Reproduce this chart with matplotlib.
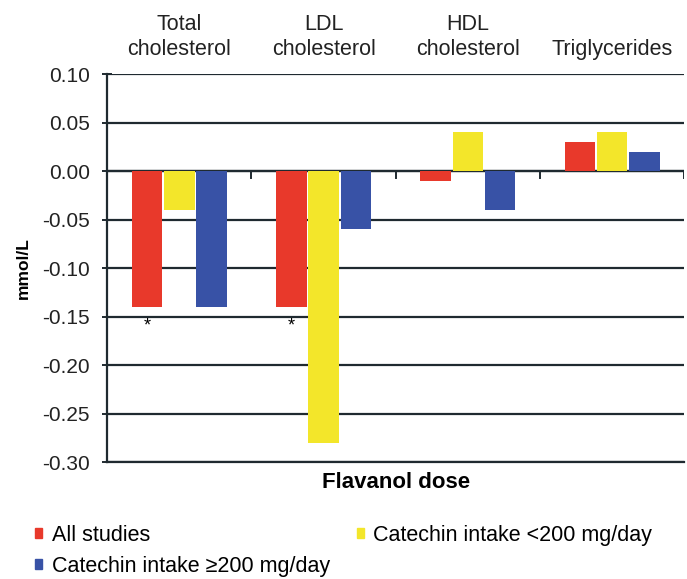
import matplotlib.pyplot as plt
import numpy as np
from matplotlib.patches import Patch

plt.rcParams["font.family"] = ["Liberation Sans", "DejaVu Sans"]

categories = ["Total\ncholesterol", "LDL\ncholesterol", "HDL\ncholesterol", "Triglycerides"]
all_studies = [-0.14, -0.14, -0.01, 0.03]
catechin_low = [-0.04, -0.28, 0.04, 0.04]
catechin_high = [-0.14, -0.06, -0.04, 0.02]
significant = [True, True, False, False]
series_labels = ["All studies", "Catechin intake <200 mg/day", "Catechin intake \u2265200 mg/day"]
yticks = [-0.30, -0.25, -0.20, -0.15, -0.10, -0.05, 0.00, 0.05, 0.10]
colors = ["#e8392b", "#f3e62a", "#3852a6"]
line_col = "#1f2a30"

fig = plt.figure(figsize=(6.87, 5.79), dpi=100)
ax = fig.add_axes([0.156, 0.202, 0.84, 0.670])

x = np.arange(len(categories))
width = 0.212
gap = 0.012
for i, (vals, c) in enumerate(zip([all_studies, catechin_low, catechin_high], colors)):
    ax.bar(x + (i - 1) * (width + gap), vals, width, color=c, zorder=3, label=series_labels[i])

for xi, sig, v in zip(x, significant, all_studies):
    if sig:
        ax.text(xi - (width + gap), v - 0.011, "*", ha="center", va="top", fontsize=13, zorder=4)

ax.set_xlim(-0.5, len(categories) - 0.5)
ax.set_ylim(-0.30, 0.10)
ax.set_yticks(yticks)
ax.set_yticklabels([f"{t:.2f}" for t in yticks], fontsize=15, color="#222222")
ax.yaxis.grid(True, color=line_col, linewidth=1.6, zorder=1)
ax.tick_params(axis="y", length=7, width=1.4, direction="inout", pad=9, color=line_col)

# category names sit above the plot
ax.set_xticks([])
for xi, lab in zip(x, categories):
    ax.text(xi, 1.049, lab, transform=ax.get_xaxis_transform(), ha="center", va="baseline",
            fontsize=15.5, linespacing=1.25, color="#222222")

# zero line with small separator ticks between groups
ax.axhline(0, color=line_col, linewidth=1.6, zorder=2)
for b in np.arange(0.5, len(categories), 1.0):
    ax.plot([b, b], [0, -0.007], color=line_col, linewidth=1.4, zorder=2)

for s in ["top", "right"]:
    ax.spines[s].set_visible(False)
for s in ["left", "bottom"]:
    ax.spines[s].set_linewidth(1.6)
    ax.spines[s].set_color(line_col)

ax.set_ylabel("mmol/L", fontsize=12.5, fontweight="bold", labelpad=8)
ax.set_xlabel("Flavanol dose", fontsize=16, fontweight="bold", labelpad=7.5)

handles = [Patch(color=colors[0]), Patch(color=colors[2]), Patch(color=colors[1])]
labels = [series_labels[0], series_labels[2], series_labels[1]]
fig.legend(handles, labels, loc="upper left", bbox_to_anchor=(0.035, 0.112), ncol=2,
           frameon=False, fontsize=15.5, handlelength=0.33, handleheight=0.33,
           handletextpad=0.45, columnspacing=1.25, labelspacing=0.45, borderpad=0)

fig.savefig("out.png", dpi=100)
